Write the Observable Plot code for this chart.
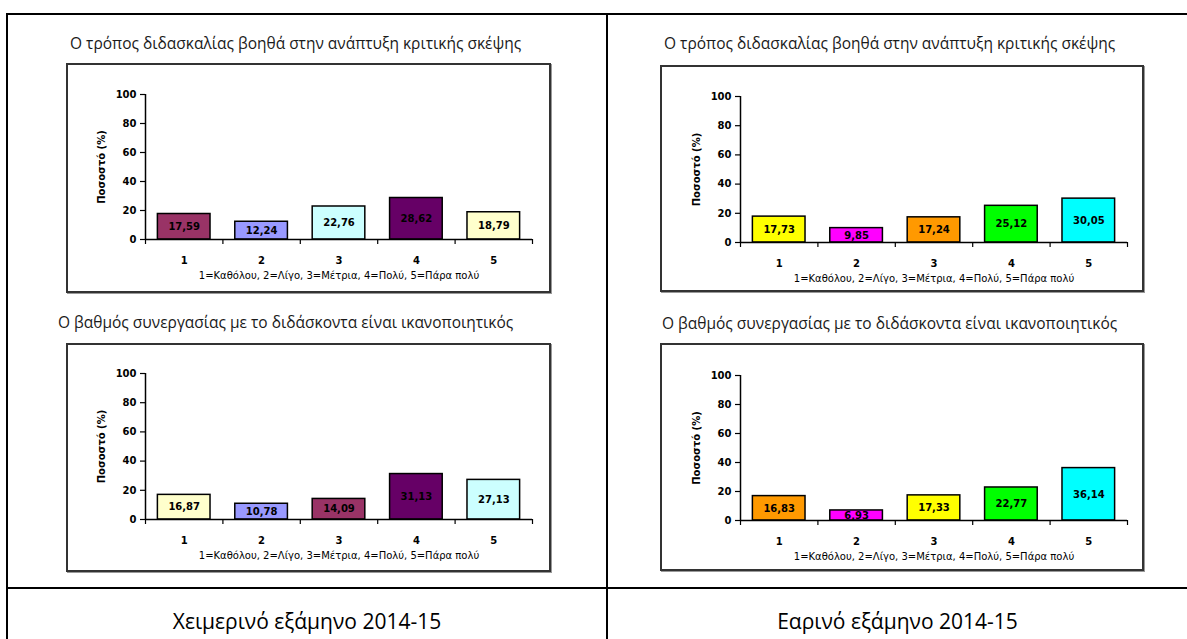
<!DOCTYPE html>
<html>
<head>
<meta charset="utf-8">
<script src="https://cdn.jsdelivr.net/npm/d3@7"></script>
<script src="https://cdn.jsdelivr.net/npm/@observablehq/plot@0.6"></script>
<style>
  html, body { margin: 0; padding: 0; background: #fff; }
  #page { position: relative; width: 1187px; height: 639px; overflow: hidden; background: #fff; }
  .line { position: absolute; background: #000; }
  .title { position: absolute; font-family: "Open Sans", sans-serif; font-size: 15.5px; line-height: 20px; color: #1a1a1a; white-space: nowrap; }
  .box { position: absolute; box-sizing: border-box; border: 2px solid #333; box-shadow: 1px 1px 0 #999; background: #fff; }
  .box svg { display: block; }
  .semester { position: absolute; font-family: "Open Sans", sans-serif; font-size: 21px; line-height: 28px; color: #000; text-align: center; white-space: nowrap; }
</style>
</head>
<body>
<div id="page"></div>
<script>
// ---------- data ----------
const categories = [1, 2, 3, 4, 5];
const tickLabels = ["1", "2", "3", "4", "5"];
const yTicks = [0, 20, 40, 60, 80, 100];
const yLabel = "Ποσοστό (%)";
const scaleCaption = "1=Καθόλου, 2=Λίγο, 3=Μέτρια, 4=Πολύ, 5=Πάρα πολύ";

const titleCritical = "Ο τρόπος διδασκαλίας βοηθά στην ανάπτυξη κριτικής σκέψης";
const titleCooperation = "Ο βαθμός συνεργασίας με το διδάσκοντα είναι ικανοποιητικός";
const semesterWinter = "Χειμερινό εξάμηνο 2014-15";
const semesterSpring = "Εαρινό εξάμηνο 2014-15";

const winterCritical = [17.59, 12.24, 22.76, 28.62, 18.79];
const winterCooperation = [16.87, 10.78, 14.09, 31.13, 27.13];
const springCritical = [17.73, 9.85, 17.24, 25.12, 30.05];
const springCooperation = [16.83, 6.93, 17.33, 22.77, 36.14];

const winterCriticalColors = ["#993366", "#9999FF", "#CCFFFF", "#660066", "#FFFFCC"];
const winterCooperationColors = ["#FFFFCC", "#9999FF", "#993366", "#660066", "#CCFFFF"];
const springCriticalColors = ["#FFFF00", "#FF00FF", "#FF9900", "#00FF00", "#00FFFF"];
const springCooperationColors = ["#FF9900", "#FF00FF", "#FFFF00", "#00FF00", "#00FFFF"];

// ---------- layout ----------
const page = document.getElementById("page");
function line(l, t, w, h) {
  const d = document.createElement("div");
  d.className = "line";
  Object.assign(d.style, {left: l + "px", top: t + "px", width: w + "px", height: h + "px"});
  page.appendChild(d);
}
line(6, 13, 1181, 2);     // top border
line(6, 13, 2, 626);      // left border
line(606, 13, 2, 626);    // middle divider
line(6, 587, 1181, 2);    // row divider

const panels = [
  {title: titleCritical, values: winterCritical, colors: winterCriticalColors,
   tx: 70, ty: 33, bx: 66, by: 63, bw: 485, bh: 230, ml: 77, mr: 17, mt: 29, mb: 52},
  {title: titleCritical, values: springCritical, colors: springCriticalColors,
   tx: 664, ty: 33, bx: 660, by: 65, bw: 484, bh: 227, ml: 78, mr: 15, mt: 29, mb: 48},
  {title: titleCooperation, values: winterCooperation, colors: winterCooperationColors,
   tx: 58, ty: 312, bx: 66, by: 343, bw: 485, bh: 229, ml: 77, mr: 17, mt: 28, mb: 51},
  {title: titleCooperation, values: springCooperation, colors: springCooperationColors,
   tx: 662, ty: 313, bx: 660, by: 343, bw: 484, bh: 228, ml: 78, mr: 15, mt: 30, mb: 49}
];

const fmt = v => v.toFixed(2).replace(".", ",");
const boundaries = categories.map(c => c - 0.5).concat([categories[categories.length - 1] + 0.5]);

for (const p of panels) {
  const t = document.createElement("div");
  t.className = "title";
  t.textContent = p.title;
  t.style.left = p.tx + "px";
  t.style.top = p.ty + "px";
  page.appendChild(t);

  const box = document.createElement("div");
  box.className = "box";
  Object.assign(box.style, {left: p.bx + "px", top: p.by + "px", width: p.bw + "px", height: p.bh + "px"});
  page.appendChild(box);

  const rows = categories.map((c, i) => ({c, v: p.values[i], color: p.colors[i]}));

  const chart = Plot.plot({
    width: p.bw - 4,
    height: p.bh - 4,
    marginLeft: p.ml, marginRight: p.mr, marginTop: p.mt, marginBottom: p.mb,
    x: {type: "linear", domain: [boundaries[0], boundaries[boundaries.length - 1]], axis: null},
    y: {domain: [0, 100], axis: null},
    color: {type: "identity"},
    style: {fontFamily: "DejaVu Sans", fontSize: "10px", color: "#000", background: "#fff", overflow: "visible"},
    marks: [
      Plot.rectY(rows, {x1: d => d.c - 0.34, x2: d => d.c + 0.34, y1: 0, y2: "v",
        fill: "color", stroke: "#000", strokeWidth: 1.5}),
      Plot.text(rows, {x: "c", y: d => d.v / 2, text: d => fmt(d.v), fontWeight: "bold", fill: "#000", fontSize: 10}),
      Plot.ruleX([boundaries[0]], {stroke: "#000", strokeWidth: 1.5}),
      Plot.ruleY([0], {stroke: "#000", strokeWidth: 1.5}),
      Plot.axisY({ticks: yTicks, tickSize: 5, tickPadding: 4, fontWeight: "bold", fontSize: 10, stroke: "#000", strokeWidth: 1.2, label: null}),
      Plot.axisX({ticks: boundaries, tickSize: 5, tickFormat: () => "", stroke: "#000", strokeWidth: 1.2, label: null}),
      Plot.axisX({ticks: categories, tickSize: 0, tickPadding: 17.5, tickFormat: d => tickLabels[categories.indexOf(d)], fontWeight: "bold", fontSize: 10, label: null}),
      Plot.text([scaleCaption], {frameAnchor: "bottom", dy: 36.5, text: d => d, textAnchor: "middle", lineAnchor: "middle", fontSize: 10, fill: "#000"}),
      Plot.text([yLabel], {frameAnchor: "left", dx: -44, rotate: -90, text: d => d, textAnchor: "middle", lineAnchor: "middle", fontWeight: "bold", fontSize: 10, fill: "#000"})
    ]
  });
  box.appendChild(chart);
}

function semester(text, l, w) {
  const d = document.createElement("div");
  d.className = "semester";
  d.textContent = text;
  Object.assign(d.style, {left: l + "px", width: w + "px", top: "607px"});
  page.appendChild(d);
}
semester(semesterWinter, 8, 598);
semester(semesterSpring, 608, 579);
</script>
</body>
</html>
